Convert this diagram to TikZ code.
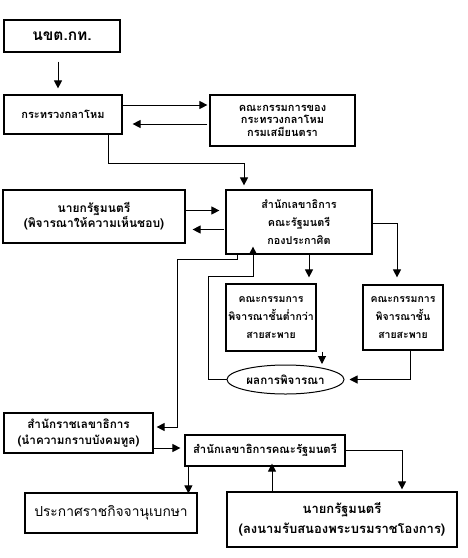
\documentclass[tikz,border=0pt]{standalone}
\usepackage{fontspec}
\newfontfamily\thai[Script=Thai]{Loma}
\usetikzlibrary{arrows.meta,shapes.geometric}
\newcommand\tf[2]{\thai\bfseries\fontsize{#1}{#2}\selectfont}
\begin{document}
\begin{tikzpicture}[x=1pt,y=-1pt,
  box/.style={draw,line width=1.2pt,align=center,inner sep=0pt,font=\tf{11}{15}},
  conn/.style={line width=1pt},
  arr/.style={conn,-{Triangle[length=8pt,width=8pt]}}]
\useasboundingbox (0,0) rectangle (467,558);
\node[box,minimum width=116pt,minimum height=32pt,font=\tf{15.5}{17}] (b1) at (62,36) {นขต.กท.};
\node[box,minimum width=118pt,minimum height=39pt] (b2) at (63,114.5) {กระทรวงกลาโหม};
\node[box,minimum width=145pt,minimum height=51pt,font=\tf{11}{12.5}] (b3) at (282.5,120.5) {คณะกรรมการของ\\กระทรวงกลาโหม\\กรมเสมียนตรา};
\node[box,minimum width=182pt,minimum height=53pt,font=\tf{12}{14}] (b4) at (94,216.5) {นายกรัฐมนตรี\\(พิจารณาให้ความเห็นชอบ)};
\node[box,minimum width=146pt,minimum height=64pt,font=\tf{10.8}{18}] (b5) at (299,222) {สำนักเลขาธิการ\\คณะรัฐมนตรี\\กองประกาศิต};
\node[box,minimum width=90pt,minimum height=67pt,font=\tf{10.5}{18}] (b6) at (271,317.5) {คณะกรรมการ\\พิจารณาชั้นต่ำกว่า\\สายสะพาย};
\node[box,minimum width=80pt,minimum height=65pt,font=\tf{10.5}{18}] (b7) at (403,317.5) {คณะกรรมการ\\พิจารณาชั้น\\สายสะพาย};
\node[box,ellipse,line width=1pt,minimum width=117pt,minimum height=29pt,font=\tf{11.6}{14}] (e) at (285.5,379.5) {ผลการพิจารณา};
\node[box,minimum width=149pt,minimum height=40pt,font=\tf{11.7}{16}] (b9) at (78.5,433) {สำนักราชเลขาธิการ\\(นำความกราบบังคมทูล)};
\node[box,minimum width=160pt,minimum height=31pt,font=\tf{11.3}{14}] (b10) at (265,450.5) {สำนักเลขาธิการคณะรัฐมนตรี};
\node[box,minimum width=172pt,minimum height=40pt,font=\thai\fontsize{13.8}{16}\selectfont] (b11) at (111,513) {ประกาศราชกิจจานุเบกษา};
\node[box,minimum width=230pt,minimum height=55pt,font=\tf{13}{20}] (b12) at (342,519.5) {นายกรัฐมนตรี\\(ลงนามรับสนองพระบรมราชโองการ)};
% connectors
\coordinate (t1) at ([xshift=-4pt,yshift=-9pt]b1.south);
\draw[arr] (t1) -- ([yshift=6pt]b2.north -| t1);
\coordinate (s2) at ([yshift=9.5pt]b2.east);
\draw[arr] (s2) -- ([xshift=-2pt]s2 -| b3.west);
\coordinate (s3) at ([yshift=-3.5pt]b3.west);
\draw[arr] ([xshift=-2pt]s3) -- ([xshift=10pt]s3 -| b2.east);
\coordinate (s4) at ([xshift=45pt]b2.south);
\coordinate (k4) at (s4 |- 0,163);
\coordinate (m4) at ([xshift=-55pt]b5.north);
\draw[arr] (s4) -- (k4) -- (k4 -| m4) -- ([yshift=4pt]m4);
\coordinate (s5) at ([yshift=6pt]b4.east);
\draw[arr] (s5) -- ([xshift=-6pt]s5 -| b5.west);
\coordinate (s6) at ([yshift=-13pt]b4.east);
\draw[arr] ([xshift=-1pt]s6 -| b5.west) -- ([xshift=7pt]s6);
\coordinate (s7) at ([xshift=10pt]b5.south);
\draw[arr] (s7) -- ([yshift=6pt]s7 |- b6.north);
\coordinate (s8) at ([yshift=-1pt]b5.east);
\coordinate (k8) at (397,0);
\draw[arr] (s8) -- (s8 -| k8) -- ([yshift=7pt]k8 |- b7.north);
\coordinate (s9) at ([xshift=51pt]b6.south);
\draw[arr] (s9) -- (322,364);
\coordinate (s10) at ([xshift=7pt]b7.south);
\draw[arr] (s10) -- (s10 |- e.east) -- ([xshift=5pt]e.east);
\coordinate (k11) at (208,276);
\coordinate (m11) at ([xshift=-46pt]b5.south);
\draw[arr] (e.west) -- (e.west -| k11) -- (k11) -- (k11 -| m11) -- ([yshift=8pt]m11);
\coordinate (s12) at ([xshift=-62pt]b5.south);
\coordinate (k12) at (177,259);
\coordinate (m12) at ([yshift=6pt]b9.east);
\draw[arr] (s12) -- (s12 |- k12) -- (k12) -- (k12 |- m12) -- ([xshift=3pt]m12);
\coordinate (s13) at ([yshift=-15pt]b9.east);
\draw[arr] (s13) -- ([xshift=-4pt]s13 -| b10.west);
\coordinate (s14) at ([xshift=4pt]b10.south west);
\draw[arr] (s14) -- ([yshift=-1pt]s14 |- b11.north);
\coordinate (s15) at ([xshift=-70pt]b12.north);
\draw[arr] (s15) -- ([yshift=3pt]s15 |- b10.south);
\coordinate (s16) at ([yshift=0.5pt]b10.east);
\coordinate (k16) at (402,0);
\draw[arr] (s16) -- (s16 -| k16) -- ([yshift=2pt]k16 |- b12.north);
\end{tikzpicture}
\end{document}
